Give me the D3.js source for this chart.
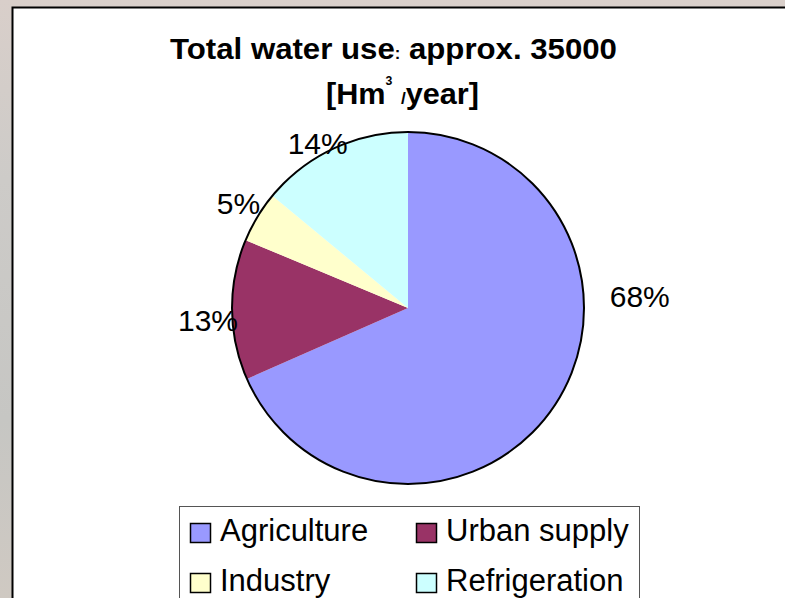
<!DOCTYPE html>
<html>
<head>
<meta charset="utf-8">
<script src="https://cdn.jsdelivr.net/npm/d3@7"></script>
<style>
  html, body { margin: 0; padding: 0; }
  body { width: 785px; height: 598px; overflow: hidden; }
  text { font-family: "Liberation Sans", Arial, sans-serif; }
</style>
</head>
<body>
<svg id="chart" width="785" height="598"></svg>
<script>
// ---- data ----
const categories = ["Agriculture", "Urban supply", "Industry", "Refrigeration"];
const shares = [68.4, 12.9, 4.7, 14.0]; // percent of total water use
const colors = ["#9999FF", "#993366", "#FFFFCC", "#CCFFFF"];
const titleLine1 = ["Total water use", ":", " approx. 35000"];
const titleLine2 = ["[Hm", "3", " ", "/", "year]"];

const svg = d3.select("#chart");

// background (textured surround approximated)
const defs = svg.append("defs");
const bg = defs.append("linearGradient").attr("id", "bg").attr("x1", 0).attr("y1", 0).attr("x2", 0).attr("y2", 1);
bg.append("stop").attr("offset", "0%").attr("stop-color", "#d9cfca");
bg.append("stop").attr("offset", "30%").attr("stop-color", "#cdcbc8");
bg.append("stop").attr("offset", "70%").attr("stop-color", "#c6c6c3");
bg.append("stop").attr("offset", "100%").attr("stop-color", "#cfc9c2");
svg.append("rect").attr("width", 785).attr("height", 598).attr("fill", "url(#bg)");

// chart area
svg.append("rect")
  .attr("x", 12.5).attr("y", 7.5).attr("width", 800).attr("height", 620)
  .attr("fill", "#ffffff").attr("stroke", "#000").attr("stroke-width", 2);

// title
function fitLine(parts, cx, baseline, targetW, build) {
  const g = svg.append("g");
  const t = g.append("text").attr("x", 0).attr("y", 0)
    .attr("text-anchor", "middle")
    .attr("font-weight", "bold").attr("font-size", 30).attr("fill", "#000");
  build(t, parts);
  const w = t.node().getBBox().width;
  g.attr("transform", `translate(${cx},${baseline}) scale(${targetW / w},1)`);
}
fitLine(titleLine1, 393.5, 59, 447, (t, p) => {
  t.append("tspan").text(p[0]);
  t.append("tspan").attr("font-size", 16).text(p[1]);
  t.append("tspan").text(p[2]);
});
fitLine(titleLine2, 402.5, 104, 153, (t, p) => {
  t.append("tspan").text(p[0]);
  t.append("tspan").attr("font-size", 12).attr("dy", -19).text(p[1]);
  t.append("tspan").attr("dy", 19).text(p[2]);
  t.append("tspan").attr("font-size", 17).text(p[3]);
  t.append("tspan").text(p[4]);
});

// pie
const cx = 408, cy = 308, R = 176;
const data = categories.map((c, i) => ({ name: c, value: shares[i], color: colors[i] }));
const pie = d3.pie().sort(null).value(d => d.value);
const arcs = pie(data);
const arc = d3.arc().innerRadius(0).outerRadius(R);
const gp = svg.append("g").attr("transform", `translate(${cx},${cy})`);
gp.selectAll("path.slice").data(arcs).join("path")
  .attr("class", "slice")
  .attr("d", arc)
  .attr("fill", d => d.data.color);
gp.append("circle").attr("r", R).attr("fill", "none").attr("stroke", "#000").attr("stroke-width", 2);

// percent labels (placed outside the slice, small layout nudges like the original)
const labelNudge = { "Urban supply": [-2, 10], "Industry": [0, -2], "Refrigeration": [-6, 14], "Agriculture": [0, 0] };
gp.selectAll("text.pct").data(arcs).join("text")
  .attr("class", "pct")
  .attr("transform", d => {
    let a = (d.startAngle + d.endAngle) / 2;
    let r = R + 22;
    if (d.data.value > 50) { a = Math.PI / 2 - 0.05; r = R + 56; }
    const n = labelNudge[d.data.name];
    return `translate(${Math.sin(a) * r + n[0]},${-Math.cos(a) * r + n[1]})`;
  })
  .attr("text-anchor", "middle")
  .attr("dy", "0.36em")
  .attr("font-size", 30)
  .attr("fill", "#000")
  .text(d => Math.round(d.data.value) + "%");

// legend
const lg = svg.append("g");
lg.append("rect").attr("x", 179.5).attr("y", 506.5).attr("width", 460).attr("height", 120)
  .attr("fill", "#fff").attr("stroke", "#555").attr("stroke-width", 1);
const colX = [190, 416], rowY = [523, 573];
const items = lg.selectAll("g.item").data(data).join("g")
  .attr("class", "item")
  .attr("transform", (d, i) => `translate(${colX[i % 2]},${rowY[Math.floor(i / 2)]})`);
items.append("rect").attr("x", 0.5).attr("y", 0.5).attr("width", 20).attr("height", 19)
  .attr("fill", d => d.color).attr("stroke", "#000").attr("stroke-width", 1.5);
items.append("text").attr("x", 30).attr("y", 18).attr("font-size", 31).attr("fill", "#000")
  .text(d => d.name);
</script>
</body>
</html>
